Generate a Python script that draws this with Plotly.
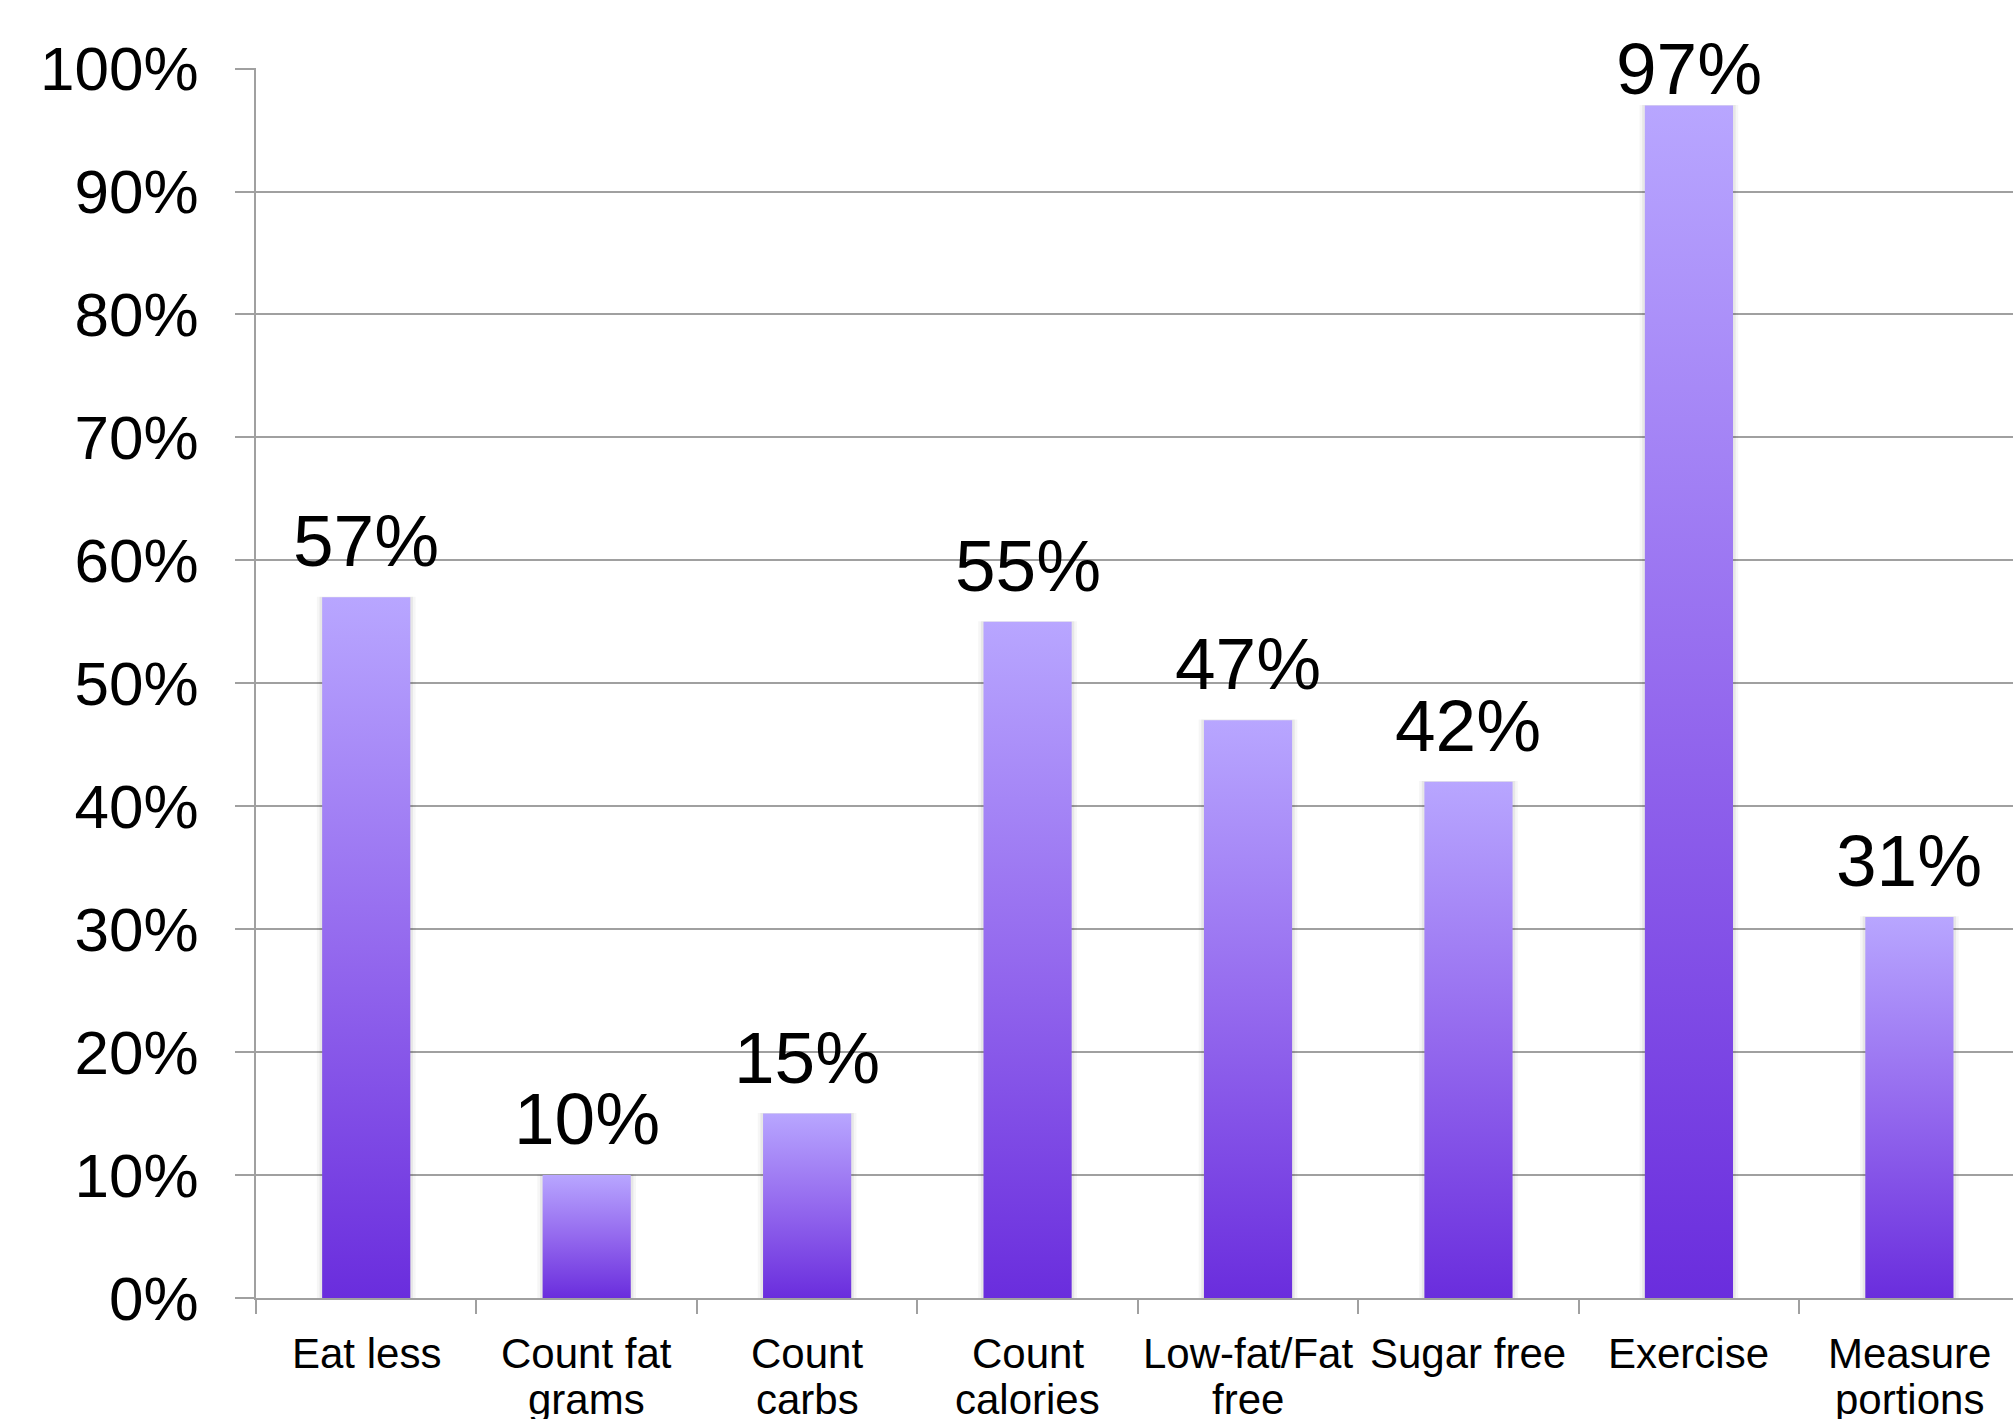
import plotly.graph_objects as go

# Survey results: share of respondents using each weight-control strategy
categories = [["Eat less"], ["Count fat", "grams"], ["Count", "carbs"], ["Count", "calories"],
              ["Low-fat/Fat", "free"], ["Sugar free"], ["Exercise"], ["Measure", "portions"]]
percent = [57, 10, 15, 55, 47, 42, 97, 31]
y_ticks = [0, 10, 20, 30, 40, 50, 60, 70, 80, 90, 100]
y_tick_text = [f"{t}%" for t in y_ticks]

FONT = "Liberation Sans, Arial, Helvetica, sans-serif"
GRID = "#a0a0a0"
BAR_TOP = "#b8a6ff"
BAR_MID = "#9469ee"
BAR_BOTTOM = "#6a2ddd"
HALF_W = 0.2
LINE_GAP = 46  # px between the lines of a wrapped category label

fig = go.Figure()

for i, v in enumerate(percent):
    xl, xr = i - HALF_W, i + HALF_W
    # soft drop shadow around each column
    for pad, alpha in ((0.024, 0.035), (0.012, 0.06)):
        fig.add_trace(go.Scatter(
            x=[xl - pad, xr + pad, xr + pad, xl - pad, xl - pad],
            y=[-0.25, -0.25, v + 0.05, v + 0.05, -0.25],
            mode="lines", fill="toself", line=dict(width=0),
            fillcolor=f"rgba(0,0,0,{alpha})", hoverinfo="skip", showlegend=False,
        ))
    # column with vertical gradient: deep purple at the base, lavender at the top
    fig.add_trace(go.Scatter(
        x=[xl, xr, xr, xl, xl],
        y=[0, 0, v, v, 0],
        mode="lines", fill="toself", line=dict(width=0),
        fillgradient=dict(type="vertical", start=0, stop=v,
                          colorscale=[[0, BAR_BOTTOM], [0.5, BAR_MID], [1, BAR_TOP]]),
        hoverinfo="skip", showlegend=False,
    ))

# value labels above each column (kept inside the chart near the top edge)
for i, v in enumerate(percent):
    fig.add_annotation(
        x=i, y=v, text=f"{v}%", showarrow=False, yanchor="bottom",
        yshift=14 if v < 95 else -5,
        font=dict(family=FONT, size=73, color="black"),
    )

# category labels under the axis, one annotation per text line
for i, lines in enumerate(categories):
    for k, line in enumerate(lines):
        fig.add_annotation(
            x=i, xref="x", y=0, yref="paper", text=line, showarrow=False,
            yanchor="middle", yshift=-55 - k * LINE_GAP,
            font=dict(family=FONT, size=42, color="black"),
        )

fig.update_layout(
    width=2013, height=1419,
    margin=dict(l=256, r=0, t=68, b=121, pad=0),
    paper_bgcolor="white", plot_bgcolor="white",
    font=dict(family=FONT, color="black"),
    xaxis=dict(
        range=[-0.5, 7.47], tickmode="array", tickvals=list(range(len(categories))),
        showticklabels=False, ticks="", showgrid=False, zeroline=False,
        showline=True, linecolor=GRID, linewidth=2, automargin=False,
        minor=dict(tickmode="array", tickvals=[k - 0.5 for k in range(len(categories) + 1)],
                   ticks="outside", ticklen=14, tickwidth=2, tickcolor=GRID, showgrid=False),
    ),
    yaxis=dict(
        range=[0, 100.05], tickmode="array", tickvals=y_ticks, ticktext=y_tick_text,
        ticks="outside", ticklen=19, tickwidth=2, tickcolor=GRID,
        showgrid=True, gridcolor=GRID, gridwidth=2, zeroline=False,
        showline=True, linecolor=GRID, linewidth=2,
        tickfont=dict(family=FONT, size=62, color="black"),
        ticklabelstandoff=24, automargin=False,
    ),
)

fig.write_html("out.html")
